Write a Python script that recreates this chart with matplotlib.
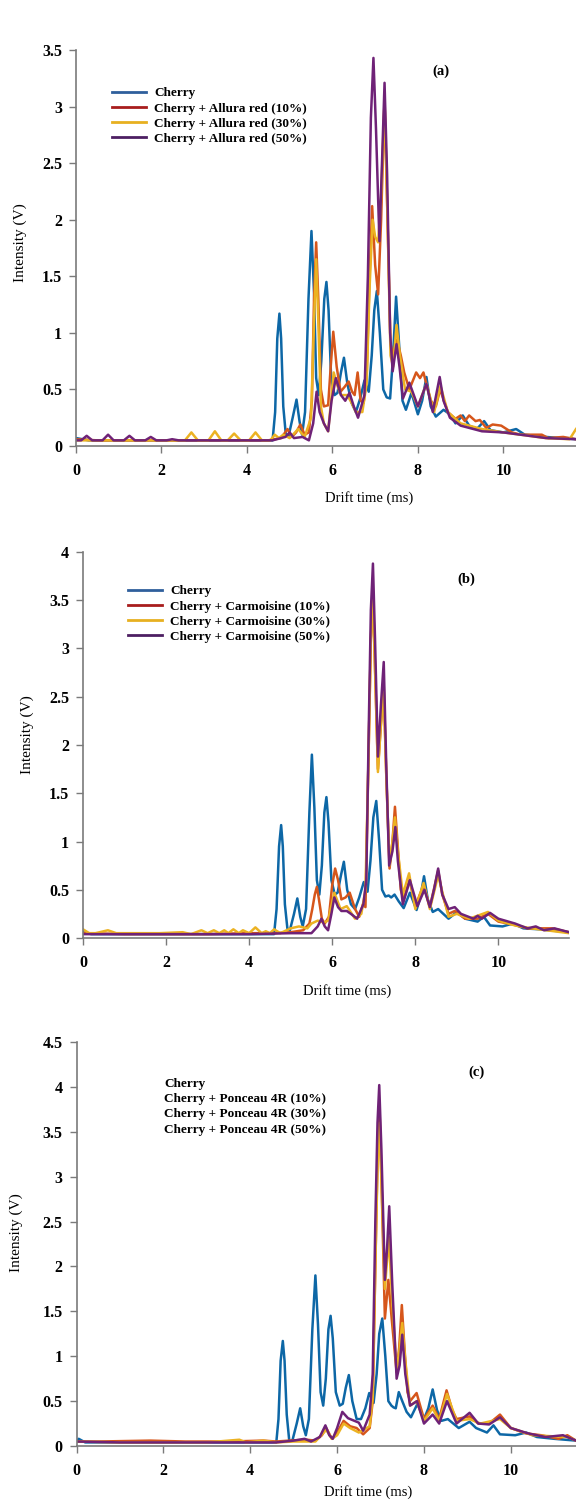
import matplotlib
matplotlib.use("Agg")
import matplotlib.pyplot as plt
from matplotlib.lines import Line2D

# ---------------- data (drift time ms, intensity V) ----------------
# panel (a): Allura red
a_cherry = [(0, .07), (0.3, .05), (1, .05), (2, .05), (3, .05), (4, .05), (4.6, .05),
            (4.66, .3), (4.71, .95), (4.76, 1.17), (4.8, .95), (4.85, .35), (4.91, .1), (4.97, .08),
            (5.07, .25), (5.16, .41), (5.23, .22), (5.29, .1), (5.36, .3), (5.44, 1.3), (5.51, 1.9),
            (5.57, 1.35), (5.62, .6), (5.68, .45), (5.74, .75), (5.81, 1.3), (5.86, 1.45), (5.91, 1.2),
            (5.97, .6), (6.05, .45), (6.12, .47), (6.2, .65), (6.27, .78), (6.35, .55), (6.45, .38),
            (6.55, .3), (6.65, .42), (6.75, .58), (6.85, .48), (6.92, .8), (6.98, 1.2), (7.04, 1.37),
            (7.11, 1.0), (7.19, .5), (7.27, .43), (7.35, .42), (7.42, .8), (7.49, 1.32), (7.56, .9),
            (7.64, .4), (7.72, .32), (7.85, .47), (8.0, .28), (8.1, .4), (8.2, .61), (8.3, .35),
            (8.42, .26), (8.6, .32), (8.75, .28), (8.88, .2), (9.05, .27), (9.2, .18), (9.38, .15),
            (9.55, .22), (9.7, .14), (10.0, .12), (10.3, .15), (10.5, .1), (11.0, .08), (11.7, .06)]
a_red10 = [(0, .06), (0.5, .05), (1.5, .05), (2.5, .05), (3.5, .05), (4.5, .05), (4.8, .07),
           (4.95, .15), (5.05, .08), (5.15, .12), (5.25, .19), (5.35, .1), (5.45, .12), (5.52, .4),
           (5.57, 1.3), (5.62, 1.8), (5.67, 1.3), (5.73, .5), (5.8, .35), (5.9, .36), (5.96, .7),
           (6.02, 1.01), (6.1, .7), (6.19, .48), (6.28, .52), (6.38, .57), (6.46, .48), (6.52, .45),
           (6.59, .65), (6.66, .4), (6.73, .38), (6.8, .6), (6.87, 1.5), (6.93, 2.12), (7.0, 1.6),
           (7.07, 1.34), (7.14, 2.0), (7.22, 3.08), (7.29, 2.0), (7.36, .9), (7.42, .8), (7.51, .94),
           (7.6, .8), (7.68, .65), (7.8, .5), (7.96, .65), (8.05, .6), (8.13, .65), (8.3, .4),
           (8.42, .35), (8.52, .5), (8.7, .3), (8.88, .24), (9.0, .27), (9.1, .22), (9.2, .27),
           (9.35, .22), (9.45, .23), (9.6, .16), (9.75, .19), (9.95, .18), (10.2, .12), (10.4, .1),
           (10.9, .1), (11.05, .07), (11.4, .08), (11.7, .06)]
a_red30 = [(0, .05), (1, .05), (2, .05), (2.55, .05), (2.7, .12), (2.85, .05), (3.1, .05),
           (3.25, .13), (3.4, .05), (3.55, .05), (3.7, .11), (3.85, .05), (4.05, .05), (4.2, .12),
           (4.35, .05), (4.55, .05), (4.65, .1), (4.75, .07), (4.85, .1), (5.0, .07), (5.2, .15),
           (5.35, .08), (5.5, .25), (5.57, 1.1), (5.62, 1.65), (5.67, 1.1), (5.73, .35), (5.8, .2),
           (5.9, .13), (5.97, .4), (6.03, .65), (6.1, .55), (6.2, .45), (6.35, .45), (6.45, .38),
           (6.55, .3), (6.7, .3), (6.8, .55), (6.87, 1.4), (6.94, 2.0), (7.0, 1.85), (7.07, 1.8),
           (7.14, 2.2), (7.22, 3.05), (7.29, 2.0), (7.36, .8), (7.42, .7), (7.5, 1.07), (7.58, .8),
           (7.7, .5), (7.85, .48), (8.0, .35), (8.2, .55), (8.38, .3), (8.53, .53), (8.7, .3),
           (9.0, .2), (9.5, .15), (10.0, .12), (11.0, .07), (11.55, .06), (11.7, .15)]
a_red50 = [(0, .05), (0.12, .05), (0.25, .09), (0.38, .05), (0.62, .05), (0.75, .1), (0.88, .05),
           (1.12, .05), (1.25, .09), (1.38, .05), (1.62, .05), (1.75, .08), (1.88, .05), (2.12, .05),
           (2.25, .06), (2.4, .05), (3.5, .05), (4.6, .05), (4.9, .08), (5.0, .12), (5.1, .07),
           (5.3, .08), (5.45, .05), (5.55, .2), (5.63, .48), (5.7, .3), (5.8, .2), (5.9, .13),
           (5.98, .4), (6.08, .6), (6.2, .45), (6.3, .4), (6.4, .47), (6.5, .35), (6.6, .25),
           (6.75, .45), (6.83, 1.5), (6.9, 2.9), (6.96, 3.43), (7.02, 2.8), (7.1, 1.81), (7.16, 2.5),
           (7.22, 3.21), (7.28, 2.4), (7.35, 1.0), (7.41, .66), (7.5, .9), (7.57, .7), (7.65, .42),
           (7.8, .56), (8.0, .35), (8.2, .55), (8.35, .3), (8.51, .61), (8.6, .4), (8.75, .25),
           (9.0, .18), (9.5, .13), (10.0, .12), (11.0, .07), (11.7, .06)]

# panel (b): Carmoisine
b_cherry = [(0, .06), (0.2, .04), (1, .04), (2, .04), (3, .04), (4, .04), (4.6, .04),
            (4.66, .3), (4.72, .95), (4.77, 1.17), (4.81, .95), (4.86, .35), (4.92, .1), (4.98, .08),
            (5.08, .25), (5.16, .41), (5.23, .22), (5.29, .12), (5.37, .3), (5.45, 1.3), (5.51, 1.9),
            (5.57, 1.35), (5.63, .6), (5.69, .45), (5.75, .75), (5.81, 1.3), (5.86, 1.46), (5.91, 1.2),
            (5.98, .6), (6.06, .45), (6.13, .47), (6.21, .65), (6.28, .79), (6.36, .5), (6.45, .35),
            (6.55, .3), (6.65, .42), (6.76, .58), (6.85, .48), (6.92, .8), (6.99, 1.25), (7.06, 1.42),
            (7.13, 1.0), (7.2, .5), (7.28, .43), (7.36, .44), (7.42, .42), (7.5, .45), (7.6, .38),
            (7.72, .31), (7.87, .47), (8.03, .29), (8.12, .42), (8.21, .64), (8.3, .4), (8.42, .27),
            (8.55, .3), (8.8, .2), (9.0, .27), (9.2, .2), (9.5, .17), (9.65, .22), (9.8, .13),
            (10.1, .12), (10.35, .15), (10.6, .1), (11.0, .09), (11.7, .06)]
b_red10 = [(0, .05), (1, .04), (2, .04), (3, .04), (4, .05), (4.6, .05), (5.0, .06), (5.3, .08),
           (5.45, .15), (5.52, .3), (5.58, .45), (5.63, .53), (5.68, .4), (5.75, .2), (5.82, .15),
           (5.92, .22), (6.0, .55), (6.07, .72), (6.14, .6), (6.22, .4), (6.32, .42), (6.42, .47),
           (6.55, .3), (6.65, .22), (6.74, .35), (6.8, .32), (6.87, 1.8), (6.93, 3.1), (6.98, 3.6),
           (7.03, 2.8), (7.1, 1.75), (7.17, 2.2), (7.24, 2.62), (7.3, 1.7), (7.38, .72), (7.45, 1.0),
           (7.51, 1.36), (7.57, 1.0), (7.65, .5), (7.72, .4), (7.86, .6), (8.0, .33), (8.2, .55),
           (8.35, .32), (8.55, .7), (8.65, .45), (8.8, .25), (8.95, .28), (9.2, .2), (9.5, .2),
           (9.75, .25), (10.0, .17), (10.35, .14), (10.7, .1), (11.3, .1), (11.7, .06)]
b_red30 = [(0, .09), (0.15, .05), (0.3, .05), (0.6, .08), (0.8, .05), (1.1, .05), (1.85, .05),
           (2.4, .06), (2.6, .04), (2.85, .08), (3.0, .05), (3.15, .08), (3.28, .05), (3.4, .08),
           (3.5, .05), (3.62, .09), (3.75, .05), (3.85, .08), (4.0, .05), (4.15, .11), (4.3, .05),
           (4.4, .07), (4.5, .05), (4.6, .09), (4.75, .05), (5.0, .1), (5.2, .12), (5.4, .1),
           (5.5, .15), (5.65, .18), (5.8, .16), (5.9, .18), (6.05, .47), (6.2, .3), (6.35, .33),
           (6.55, .2), (6.7, .25), (6.8, .5), (6.87, 1.8), (6.93, 3.1), (6.98, 3.5), (7.03, 2.8),
           (7.1, 1.72), (7.17, 2.2), (7.24, 2.55), (7.3, 1.7), (7.38, .75), (7.45, 1.0), (7.51, 1.25),
           (7.58, .9), (7.7, .45), (7.85, .67), (8.0, .3), (8.2, .57), (8.35, .3), (8.55, .65),
           (8.8, .22), (9.0, .25), (9.3, .2), (9.75, .27), (10.0, .18), (10.4, .13), (10.8, .1),
           (11.7, .05)]
b_red50 = [(0, .04), (1, .04), (2, .04), (3, .04), (4, .04), (5.0, .05), (5.5, .05), (5.65, .12),
           (5.74, .2), (5.82, .12), (5.9, .08), (5.98, .25), (6.05, .42), (6.14, .32), (6.22, .28),
           (6.35, .28), (6.45, .25), (6.6, .2), (6.75, .35), (6.82, .6), (6.88, 2.2), (6.93, 3.4),
           (6.98, 3.88), (7.03, 3.1), (7.1, 1.88), (7.17, 2.4), (7.24, 2.86), (7.3, 1.8), (7.37, .75),
           (7.45, .9), (7.52, 1.15), (7.58, .8), (7.7, .35), (7.87, .6), (8.05, .33), (8.22, .5),
           (8.35, .32), (8.45, .5), (8.55, .72), (8.65, .45), (8.8, .3), (8.95, .32), (9.1, .25),
           (9.4, .2), (9.5, .23), (9.6, .2), (9.8, .26), (10.0, .2), (10.4, .15), (10.7, .1),
           (10.9, .12), (11.1, .08), (11.35, .1), (11.7, .06)]

# panel (c): Ponceau 4R
c_cherry = [(0, .05), (0.05, .08), (0.2, .04), (1, .04), (2, .04), (3, .04), (4, .04), (4.6, .04),
            (4.65, .3), (4.7, .95), (4.75, 1.17), (4.79, .95), (4.84, .35), (4.9, .05), (4.97, .06),
            (5.07, .25), (5.15, .42), (5.22, .22), (5.28, .12), (5.35, .3), (5.43, 1.3), (5.5, 1.9),
            (5.56, 1.35), (5.62, .6), (5.68, .45), (5.74, .75), (5.8, 1.3), (5.85, 1.45), (5.9, 1.2),
            (5.97, .6), (6.06, .45), (6.13, .47), (6.2, .65), (6.27, .79), (6.35, .5), (6.45, .3),
            (6.55, .3), (6.65, .42), (6.74, .59), (6.84, .48), (6.91, .8), (6.97, 1.25), (7.04, 1.42),
            (7.11, 1.0), (7.18, .5), (7.25, .45), (7.3, .43), (7.35, .42), (7.42, .6), (7.5, .5),
            (7.6, .38), (7.7, .32), (7.85, .47), (8.0, .3), (8.1, .42), (8.2, .63), (8.3, .4),
            (8.4, .28), (8.55, .3), (8.8, .2), (9.05, .27), (9.2, .2), (9.45, .15), (9.6, .23),
            (9.75, .13), (10.1, .12), (10.35, .15), (10.6, .1), (11.0, .08), (11.5, .06)]
c_red10 = [(0, .05), (0.5, .05), (1.7, .06), (2.5, .05), (3.5, .05), (4.3, .06), (4.6, .05),
           (4.9, .06), (5.3, .07), (5.5, .06), (5.65, .12), (5.75, .2), (5.88, .08), (6.0, .15),
           (6.15, .28), (6.3, .22), (6.45, .2), (6.6, .13), (6.75, .2), (6.82, .5), (6.88, 2.0),
           (6.93, 3.2), (6.98, 3.7), (7.03, 2.8), (7.1, 1.42), (7.18, 1.85), (7.26, 1.4), (7.37, .82),
           (7.43, 1.1), (7.49, 1.57), (7.55, 1.1), (7.62, .6), (7.68, .5), (7.83, .59), (8.0, .3),
           (8.2, .45), (8.35, .3), (8.52, .62), (8.65, .4), (8.75, .3), (9.05, .33), (9.25, .25),
           (9.5, .25), (9.75, .35), (10.0, .2), (10.35, .14), (10.7, .12), (11.1, .08), (11.3, .12),
           (11.5, .06)]
c_red30 = [(0, .05), (1, .04), (2, .04), (3, .04), (3.75, .07), (3.9, .04), (4.3, .06), (4.6, .04),
           (5.0, .05), (5.5, .05), (5.75, .18), (5.88, .08), (6.0, .12), (6.15, .25), (6.3, .2),
           (6.5, .15), (6.75, .22), (6.82, .55), (6.88, 2.0), (6.93, 3.1), (6.98, 3.6), (7.03, 2.8),
           (7.1, 1.75), (7.19, 2.33), (7.27, 1.6), (7.37, .85), (7.43, 1.05), (7.5, 1.37),
           (7.56, 1.0), (7.68, .45), (7.83, .5), (8.0, .28), (8.2, .42), (8.35, .28), (8.53, .58),
           (8.75, .28), (9.05, .3), (9.3, .25), (9.75, .3), (10.0, .2), (10.5, .12), (11.3, .1),
           (11.5, .06)]
c_red50 = [(0, .05), (1, .04), (2, .04), (3, .04), (4, .04), (4.6, .04), (5.0, .06), (5.25, .08),
           (5.4, .05), (5.6, .1), (5.73, .23), (5.82, .12), (5.9, .08), (6.0, .2), (6.12, .38),
           (6.25, .31), (6.4, .28), (6.5, .26), (6.6, .17), (6.75, .35), (6.82, .8), (6.88, 2.5),
           (6.93, 3.6), (6.97, 4.02), (7.02, 3.3), (7.1, 1.85), (7.15, 2.2), (7.2, 2.67), (7.27, 1.8),
           (7.37, .75), (7.44, .9), (7.5, 1.24), (7.57, .8), (7.68, .45), (7.84, .5), (8.0, .25),
           (8.2, .35), (8.35, .25), (8.53, .5), (8.75, .25), (9.05, .37), (9.25, .25), (9.5, .24),
           (9.75, .32), (10.0, .2), (10.4, .14), (10.8, .1), (11.2, .12), (11.5, .06)]

panel_data = [[a_cherry, a_red10, a_red30, a_red50],
              [b_cherry, b_red10, b_red30, b_red50],
              [c_cherry, c_red10, c_red30, c_red50]]
dyes = ["Allura red", "Carmoisine", "Ponceau 4R"]
levels = ["10%", "30%", "50%"]
panel_tags = ["(a)", "(b)", "(c)"]
y_ticks = [[0, 0.5, 1, 1.5, 2, 2.5, 3, 3.5],
           [0, 0.5, 1, 1.5, 2, 2.5, 3, 3.5, 4],
           [0, 0.5, 1, 1.5, 2, 2.5, 3, 3.5, 4, 4.5]]
x_ticks = [0, 2, 4, 6, 8, 10]
x_max = [11.7, 11.7, 11.5]

line_cols = ["#0d67a6", "#d6561b", "#ecb222", "#6f2277"]
legend_cols = ["#2f5f9c", "#a81d1d", "#e7b020", "#4d1f62"]

# ---------------- layout (pixels in the 576x1502 image) ----------------
W, H = 576, 1502
axes_px = [(76, 50, 576, 446), (83, 552, 569, 938), (76.5, 1042, 576, 1446)]
ylab_px = [(20, 243), (27.5, 735), (16.5, 1233)]
xlab_px = [(369, 498), (347, 991), (368, 1492)]
tag_pos = [(0.73, 0.947), (0.788, 0.93), (0.80, 0.926)]
leg_pos = [(0.072, 0.906), (0.092, 0.914), (0.175, 0.911)]

serif = "Liberation Serif"
spine_col = "#7a7a7a"

fig = plt.figure(figsize=(W / 100, H / 100), dpi=100)

for i in range(3):
    x0, y0, x1, y1 = axes_px[i]
    ax = fig.add_axes([x0 / W, 1 - y1 / H, (x1 - x0) / W, (y1 - y0) / H])
    for series, col in zip(panel_data[i], line_cols):
        xs, ys = zip(*series)
        ax.plot(xs, ys, color=col, linewidth=1.8, solid_joinstyle="round")

    ax.set_xlim(0, x_max[i])
    ax.set_ylim(0, y_ticks[i][-1])
    ax.set_xticks(x_ticks)
    ax.set_yticks(y_ticks[i])
    ax.set_xticklabels([str(t) for t in x_ticks])
    ax.set_yticklabels([("%g" % t) for t in y_ticks[i]])
    ax.spines["top"].set_visible(False)
    ax.spines["right"].set_visible(False)
    for s in ["left", "bottom"]:
        ax.spines[s].set_color(spine_col)
        ax.spines[s].set_linewidth(1.2)
    ax.tick_params(direction="out", length=5, width=1, color=spine_col)
    ax.tick_params(axis="x", pad=7)
    ax.tick_params(axis="y", pad=5)
    for lab in ax.get_xticklabels() + ax.get_yticklabels():
        lab.set_fontfamily(serif)
        lab.set_fontweight("bold")
        lab.set_fontsize(11.5)

    labels = ["Cherry"] + ["Cherry + %s (%s)" % (dyes[i], lv) for lv in levels]
    if i < 2:
        handles = [Line2D([], [], color=c, linewidth=2) for c in legend_cols]
        hl, hp = 2.6, 0.6
    else:
        handles = [Line2D([], [], linestyle="none") for _ in labels]
        hl, hp = 0, 0
    ax.legend(handles, labels, loc="upper left", bbox_to_anchor=leg_pos[i],
              frameon=False, borderpad=0, borderaxespad=0, handlelength=hl,
              handletextpad=hp, labelspacing=0.22,
              prop={"family": serif, "weight": "bold", "size": 9.5})

    ax.text(tag_pos[i][0], tag_pos[i][1], panel_tags[i], transform=ax.transAxes,
            ha="center", va="center", family=serif, weight="bold", fontsize=10.5)

    fig.text(ylab_px[i][0] / W, 1 - ylab_px[i][1] / H, "Intensity (V)", rotation=90,
             ha="center", va="center", family=serif, fontsize=11)
    fig.text(xlab_px[i][0] / W, 1 - xlab_px[i][1] / H, "Drift time (ms)",
             ha="center", va="center", family=serif, fontsize=10.5)

fig.savefig("out.png", dpi=100)
